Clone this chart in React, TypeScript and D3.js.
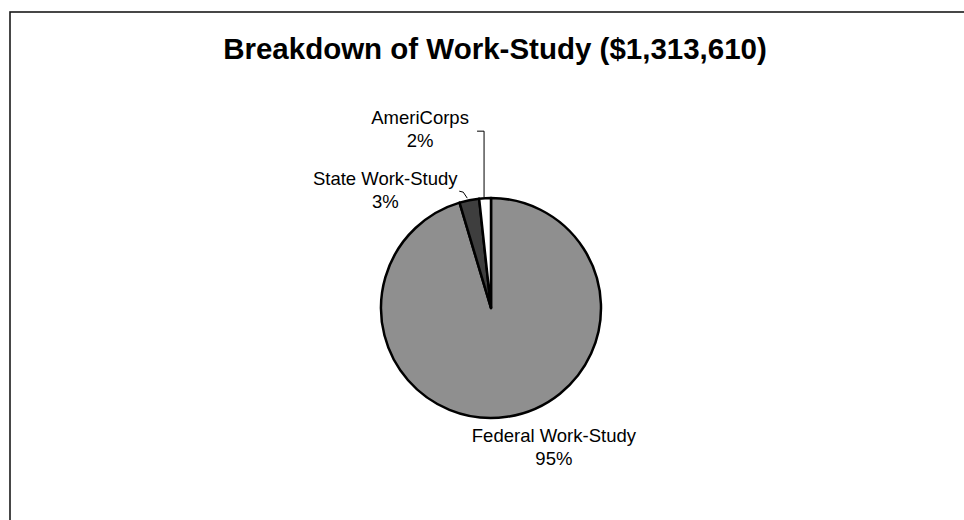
import { useEffect, useRef } from "react";
import * as d3 from "d3";

// Dados do gráfico (valores estimados a partir dos percentuais)
const CATEGORIES = ["Federal Work-Study", "State Work-Study", "AmeriCorps"];
const AMOUNTS = [1253000, 38000, 22610];
const PERCENT_LABELS = ["95%", "3%", "2%"];
const TITLE = "Breakdown of Work-Study ($1,313,610)";

// Cores das fatias
const SLICE_COLORS: Record<string, string> = {
  "Federal Work-Study": "#8f8f8f",
  "State Work-Study": "#3e3e3e",
  AmeriCorps: "#ffffff",
};

// Posição do rótulo relativa ao ponto médio da borda da fatia
const LABEL_OFFSET: Record<string, [number, number]> = {
  "Federal Work-Study": [47, 25],
  "State Work-Study": [-84, -15],
  AmeriCorps: [-65, -74],
};

// Linhas de chamada (relativas ao ponto da borda)
const LEADERS: Record<string, [number, number][]> = {
  "State Work-Study": [[-2, -2], [-6, -8], [-10, -9]],
  AmeriCorps: [[-1, -1], [-1, -67], [-8, -67]],
};

const WIDTH = 964;
const HEIGHT = 520;

const App = () => {
  const svgRef = useRef<SVGSVGElement>(null);

  useEffect(() => {
    if (!svgRef.current) return;
    const svg = d3.select(svgRef.current);
    svg.selectAll("*").remove();

    const font = "'Liberation Sans', Arial, Helvetica, sans-serif";

    svg.append("rect").attr("width", WIDTH).attr("height", HEIGHT).attr("fill", "#ffffff");

    // Moldura (continua fora da imagem à direita e embaixo)
    svg
      .append("rect")
      .attr("x", 10)
      .attr("y", 12)
      .attr("width", WIDTH + 20)
      .attr("height", HEIGHT + 20)
      .attr("fill", "none")
      .attr("stroke", "#1a1a1a")
      .attr("stroke-width", 1.6);

    // Título
    svg
      .append("text")
      .attr("x", 495)
      .attr("y", 59)
      .attr("text-anchor", "middle")
      .style("font-family", font)
      .style("font-size", "29.5px")
      .style("font-weight", "700")
      .attr("fill", "#000")
      .text(TITLE);

    const cx = 491;
    const cy = 308;
    const radius = 110;

    const data = CATEGORIES.map((c, i) => ({ cat: c, value: AMOUNTS[i], pct: PERCENT_LABELS[i] }));

    const pie = d3
      .pie<(typeof data)[number]>()
      .value((d) => d.value)
      .sort(null)
      .startAngle(0)
      .endAngle(2 * Math.PI);

    const arcs = pie(data);
    const arc = d3.arc<d3.PieArcDatum<(typeof data)[number]>>().innerRadius(0).outerRadius(radius);

    const g = svg.append("g").attr("transform", `translate(${cx},${cy})`);

    g.selectAll("path")
      .data(arcs)
      .enter()
      .append("path")
      .attr("d", arc)
      .attr("fill", (d) => SLICE_COLORS[d.data.cat])
      .attr("stroke", "#000")
      .attr("stroke-width", 2.5)
      .attr("stroke-linejoin", "round");

    // Rótulos e linhas de chamada
    arcs.forEach((d) => {
      const mid = (d.startAngle + d.endAngle) / 2;
      const ex = Math.sin(mid) * radius;
      const ey = -Math.cos(mid) * radius;
      const [ox, oy] = LABEL_OFFSET[d.data.cat];

      const leader = LEADERS[d.data.cat];
      if (leader) {
        g.append("path")
          .attr("d", d3.line()(leader.map(([lx, ly]) => [ex + lx, ey + ly])))
          .attr("fill", "none")
          .attr("stroke", "#000")
          .attr("stroke-width", 1);
      }

      const t = g
        .append("text")
        .attr("text-anchor", "middle")
        .style("font-family", font)
        .style("font-size", "18.5px")
        .attr("fill", "#000");
      t.append("tspan").attr("x", ex + ox).attr("y", ey + oy).text(d.data.cat);
      t.append("tspan").attr("x", ex + ox).attr("y", ey + oy + 23).text(d.data.pct);
    });
  }, []);

  return (
    <svg
      ref={svgRef}
      width={WIDTH}
      height={HEIGHT}
      style={{ position: "absolute", left: 0, top: 0, display: "block" }}
    />
  );
};

export default App;
